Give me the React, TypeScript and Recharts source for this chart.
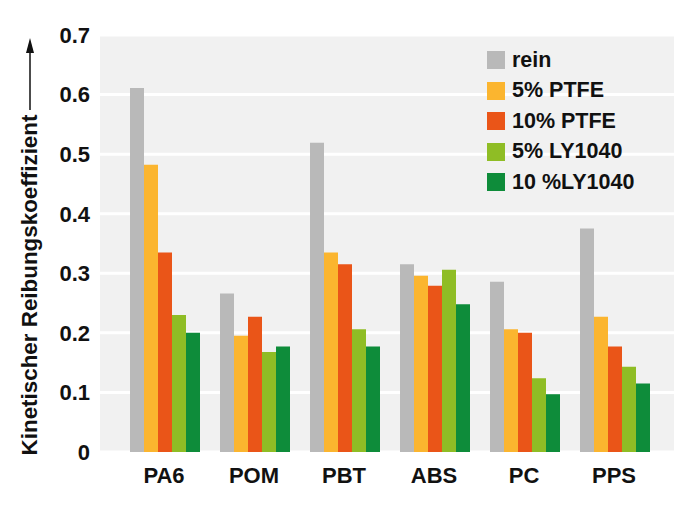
import { Bar, BarChart, CartesianGrid, XAxis, YAxis } from 'recharts'

const materials = ['PA6', 'POM', 'PBT', 'ABS', 'PC', 'PPS']
const rein = [0.611, 0.266, 0.519, 0.315, 0.286, 0.375]
const ptfe5 = [0.482, 0.195, 0.335, 0.296, 0.206, 0.227]
const ptfe10 = [0.335, 0.227, 0.315, 0.279, 0.2, 0.177]
const ly5 = [0.23, 0.168, 0.206, 0.306, 0.124, 0.143]
const ly10 = [0.2, 0.177, 0.177, 0.248, 0.097, 0.115]
const yTicks = [0, 0.1, 0.2, 0.3, 0.4, 0.5, 0.6, 0.7]

const series = [
  { key: 'rein', name: 'rein', color: '#b9b9b9' },
  { key: 'ptfe5', name: '5% PTFE', color: '#fbb52f' },
  { key: 'ptfe10', name: '10% PTFE', color: '#ea5518' },
  { key: 'ly5', name: '5% LY1040', color: '#8fbd25' },
  { key: 'ly10', name: '10 %LY1040', color: '#0e8c3a' },
]

const data = materials.map((m, i) => ({
  name: m,
  rein: rein[i],
  ptfe5: ptfe5[i],
  ptfe10: ptfe10[i],
  ly5: ly5[i],
  ly10: ly10[i],
}))

const font = '"Liberation Sans", Arial, sans-serif'

function LegendBox() {
  return (
    <div
      style={{
        position: 'absolute',
        left: 487,
        top: 45,
        fontFamily: font,
        fontWeight: 700,
        fontSize: 21.5,
        color: '#111',
      }}
    >
      {series.map((s) => (
        <div key={s.key} style={{ display: 'flex', alignItems: 'center', height: 30.5 }}>
          <span style={{ width: 18, height: 18, background: s.color, marginRight: 7 }} />
          <span>{s.name}</span>
        </div>
      ))}
    </div>
  )
}

function YLabel() {
  return (
    <g>
      <text
        x={29}
        y={285}
        transform="rotate(-90 29 285)"
        textAnchor="middle"
        dominantBaseline="central"
        fontFamily={font}
        fontWeight={700}
        fontSize={22.4}
        fill="#111"
      >
        Kinetischer Reibungskoeffizient
      </text>
      <line x1={30} y1={110} x2={30} y2={50} stroke="#111" strokeWidth={1.5} />
      <polygon points="30,38 26,53 34,53" fill="#111" />
    </g>
  )
}

export default function App() {
  return (
    <div style={{ position: 'absolute', left: 0, top: 0, width: 700, height: 505, background: '#fff' }}>
      <BarChart
        width={700}
        height={505}
        data={data}
        margin={{ top: 35, right: 26, left: 0, bottom: 0 }}
        barCategoryGap={11}
        barGap={0}
      >
        <CartesianGrid vertical={false} stroke="#ffffff" strokeWidth={3} fill="#f1f1f1" />
        <XAxis
          dataKey="name"
          height={53}
          padding={{ left: 19, right: 15 }}
          axisLine={false}
          tickLine={false}
          tickSize={0}
          tickMargin={15}
          tick={{ fontFamily: font, fontWeight: 700, fontSize: 22, fill: '#111' }}
        />
        <YAxis
          width={100}
          domain={[0, 0.7]}
          ticks={yTicks}
          axisLine={false}
          tickLine={false}
          tickSize={0}
          tickMargin={10}
          tickFormatter={(v: number) => (v === 0 ? '0' : v.toFixed(1))}
          tick={{ fontFamily: font, fontWeight: 700, fontSize: 22, fill: '#111' }}
          label={{ content: () => <YLabel /> }}
        />
        {series.map((s) => (
          <Bar key={s.key} dataKey={s.key} name={s.name} fill={s.color} isAnimationActive={false} />
        ))}
      </BarChart>
      <LegendBox />
    </div>
  )
}
